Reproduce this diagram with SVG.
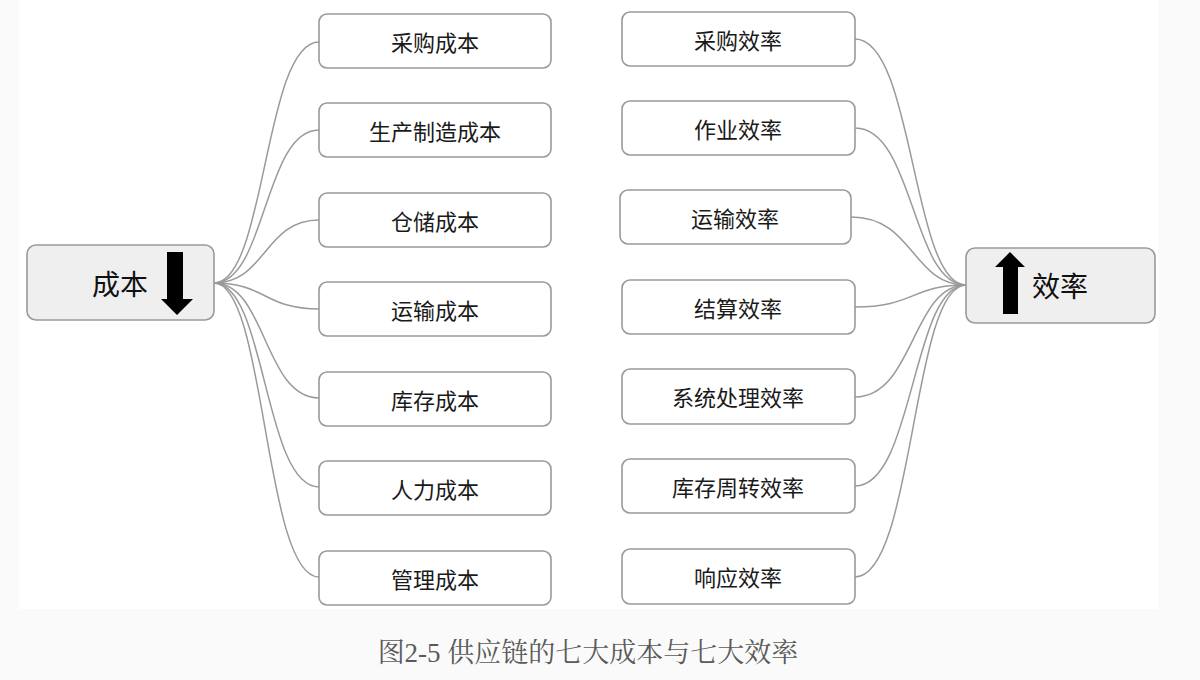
<svg xmlns="http://www.w3.org/2000/svg" width="1200" height="680" viewBox="0 0 1200 680">
<style>
.box{fill:#ffffff;stroke:#9a9a9a;stroke-width:1.6}
.hub{fill:#efefef;stroke:#9a9a9a;stroke-width:1.6}
.t{font-family:"Noto Sans CJK SC","Noto Sans",sans-serif;font-size:22px;fill:#1a1a1a;text-anchor:middle;dominant-baseline:central;font-weight:400}
.ht{font-family:"Noto Sans CJK SC","Noto Sans",sans-serif;font-size:28px;fill:#111;text-anchor:middle;dominant-baseline:central;font-weight:400}
.c{fill:none;stroke:#9a9a9a;stroke-width:1.5}
.cap{font-family:"Liberation Serif","Noto Serif CJK SC","Noto Sans CJK SC",serif;font-size:27px;fill:#5a5a5a;text-anchor:middle}
</style>
<rect x="0" y="0" width="1200" height="680" fill="#fafafa"/>
<rect x="19" y="0" width="1139" height="609" fill="#ffffff"/>
<g id="connectors">
<path class="c" d="M214,283 C266,283 264,42 319,42"/>
<path class="c" d="M214,283 C266,283 264,130 319,130"/>
<path class="c" d="M214,283 C266,283 264,220 319,220"/>
<path class="c" d="M214,283 C266,283 264,309 319,309"/>
<path class="c" d="M214,283 C266,283 264,398 319,398"/>
<path class="c" d="M214,283 C266,283 264,487 319,487"/>
<path class="c" d="M214,283 C266,283 264,577 319,577"/>
<path class="c" d="M966,285 C912,285 914,39 855,39"/>
<path class="c" d="M966,285 C912,285 914,128 855,128"/>
<path class="c" d="M966,285 C912,285 914,217 851,217"/>
<path class="c" d="M966,285 C912,285 914,307 855,307"/>
<path class="c" d="M966,285 C912,285 914,397 855,397"/>
<path class="c" d="M966,285 C912,285 914,486 855,486"/>
<path class="c" d="M966,285 C912,285 914,577 855,577"/>
</g>
<g id="cost">
<rect class="hub" x="27" y="245" width="187" height="75" rx="9"/>
<text class="ht" x="120" y="283">成本</text>
<polygon points="167,252 183,252 183,299 193,299 177,315 161,299 167,299" fill="#000"/>
</g>
<g id="efficiency">
<rect class="hub" x="966" y="248" width="189" height="75" rx="9"/>
<polygon points="1010,252 1025,267 1018,267 1018,314 1003,314 1003,267 995,267" fill="#000"/>
<text class="ht" x="1060" y="285">效率</text>
</g>
<g id="c1"><rect class="box" x="319" y="14" width="232" height="54" rx="8"/><text class="t" x="435" y="41">采购成本</text></g>
<g id="c2"><rect class="box" x="319" y="103" width="232" height="54" rx="8"/><text class="t" x="435" y="130">生产制造成本</text></g>
<g id="c3"><rect class="box" x="319" y="193" width="232" height="54" rx="8"/><text class="t" x="435" y="220">仓储成本</text></g>
<g id="c4"><rect class="box" x="319" y="282" width="232" height="54" rx="8"/><text class="t" x="435" y="309">运输成本</text></g>
<g id="c5"><rect class="box" x="319" y="372" width="232" height="54" rx="8"/><text class="t" x="435" y="399">库存成本</text></g>
<g id="c6"><rect class="box" x="319" y="461" width="232" height="54" rx="8"/><text class="t" x="435" y="488">人力成本</text></g>
<g id="c7"><rect class="box" x="319" y="551" width="232" height="54" rx="8"/><text class="t" x="435" y="578">管理成本</text></g>
<g id="e1"><rect class="box" x="622" y="12" width="233" height="54" rx="8"/><text class="t" x="738" y="39">采购效率</text></g>
<g id="e2"><rect class="box" x="622" y="101" width="233" height="54" rx="8"/><text class="t" x="738" y="128">作业效率</text></g>
<g id="e3"><rect class="box" x="620" y="190" width="231" height="54" rx="8"/><text class="t" x="735" y="217">运输效率</text></g>
<g id="e4"><rect class="box" x="622" y="280" width="233" height="54" rx="8"/><text class="t" x="738" y="307">结算效率</text></g>
<g id="e5"><rect class="box" x="622" y="369" width="233" height="55" rx="8"/><text class="t" x="738" y="396">系统处理效率</text></g>
<g id="e6"><rect class="box" x="622" y="459" width="233" height="54" rx="8"/><text class="t" x="738" y="486">库存周转效率</text></g>
<g id="e7"><rect class="box" x="622" y="549" width="233" height="55" rx="8"/><text class="t" x="738" y="576">响应效率</text></g>
<text class="cap" x="588" y="662">图2-5 供应链的七大成本与七大效率</text>
</svg>
